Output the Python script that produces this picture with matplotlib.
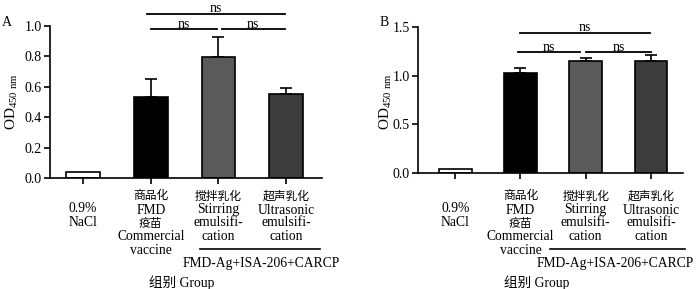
import numpy as np
import matplotlib
matplotlib.use('Agg')
import matplotlib.pyplot as plt
from matplotlib.transforms import blended_transform_factory

plt.rcParams['font.family'] = ['Liberation Serif', 'Noto Sans CJK SC']
plt.rcParams['mathtext.fontset'] = 'custom'
plt.rcParams['mathtext.rm'] = 'Liberation Serif'

# Data
groups = ['NaCl', 'Commercial', 'Stirring', 'Ultrasonic']
mean_a = [0.04, 0.53, 0.795, 0.555]
err_a = [0.0, 0.12, 0.135, 0.035]
mean_b = [0.045, 1.03, 1.155, 1.15]
err_b = [0.0, 0.05, 0.025, 0.06]
bar_colors = ['white', 'black', '#5a5a5a', '#3c3c3c']
yticks_a = [0.0, 0.2, 0.4, 0.6, 0.8, 1.0]
yticks_b = [0.0, 0.5, 1.0, 1.5]

# label lines per group (text, is_cjk)
label_lines = [
    [('0.9%', False), ('NaCl', False)],
    [('商品化', True), ('FMD', False), ('疫苗', True), ('Commercial', False), ('vaccine', False)],
    [('搅拌乳化', True), ('Stirring', False), ('emulsifi-', False), ('cation', False)],
    [('超声乳化', True), ('Ultrasonic', False), ('emulsifi-', False), ('cation', False)],
]
# vertical pixel centre of each row (from top of the image)
rows_nacl = [208, 222]
rows_other = [196, 210, 223, 237, 250]
group_text = '组别 Group'
combo_text = 'FMD-Ag+ISA-206+CARCP'

W, H = 700, 289
fig = plt.figure(figsize=(7, 2.89), dpi=100)


def fy(p):
    return 1 - p / H


def panel(rect, means, errs, yticks, ylim, xlim, letter, letter_xy, ylab_x,
          sig, line_x, combo_x, group_x):
    ax = fig.add_axes(rect)
    x = np.arange(len(means))
    ax.bar(x, means, width=0.5, color=bar_colors, edgecolor='black', linewidth=1.2, zorder=2)
    for xi, m, e in zip(x, means, errs):
        if e > 0:
            ax.errorbar(xi, m, yerr=[[0], [e]], fmt='none', ecolor='black',
                        elinewidth=1.2, capsize=4, capthick=1.2, zorder=1)
    ax.set_xlim(*xlim)
    ax.set_ylim(*ylim)
    ax.set_yticks(yticks)
    ax.set_yticklabels(['%.1f' % v for v in yticks], fontsize=10)
    ax.set_xticks(x)
    ax.set_xticklabels([])
    ax.tick_params(axis='both', direction='out', length=4, width=1.2, pad=2)
    for s in ['top', 'right']:
        ax.spines[s].set_visible(False)
    for s in ['left', 'bottom']:
        ax.spines[s].set_linewidth(1.2)

    tr = blended_transform_factory(ax.transData, fig.transFigure)
    for i, lines in enumerate(label_lines):
        rows = rows_nacl if i == 0 else rows_other
        for (txt, cjk), r in zip(lines, rows):
            ax.text(i, fy(r), txt, transform=tr, ha='center', va='center',
                    fontsize=8.5 if cjk else 9.8, clip_on=False,
                    family=['Noto Sans CJK SC'] if cjk else ['Liberation Serif'])
    ax.plot(line_x, [fy(249), fy(249)], transform=tr, color='black', lw=1.2, clip_on=False)
    ax.text(combo_x, fy(263), combo_text, transform=tr, ha='center', va='center',
            fontsize=9.8, clip_on=False)
    ax.text(group_x, fy(283), group_text, transform=tr, ha='center', va='center',
            fontsize=9.8, clip_on=False, family=['Liberation Serif', 'Noto Sans CJK SC'])

    px = (ylim[1] - ylim[0]) / (rect[3] * H)
    for x0, x1, yv in sig:
        ax.plot([x0, x1], [yv, yv], color='black', lw=1.3, clip_on=False)
        ax.text((x0 + x1) / 2, yv + 1.5 * px, 'ns', ha='center',
                va='baseline', fontsize=10, clip_on=False)

    fig.text(letter_xy[0] / W, fy(letter_xy[1]), letter, ha='center', va='center', fontsize=10)
    fig.text(ylab_x / W, fy(101), r'OD$_{\mathregular{450\ nm}}$', rotation=90,
             ha='center', va='center', fontsize=11)
    return ax


panel([50 / W, fy(178), 272 / W, 152 / H], mean_a, err_a, yticks_a, (0, 1.0), (-0.49, 3.53),
      'A', (7, 23), 12,
      [(0.94, 2.98, 1.08), (1.0, 1.98, 0.98), (2.05, 2.98, 0.98)],
      [1.73, 3.5], 2.63, 1.46)

panel([418 / W, fy(173), 265 / W, 146 / H], mean_b, err_b, yticks_b, (0, 1.5), (-0.57, 3.49),
      'B', (384, 23), 386,
      [(1.0, 2.98, 1.44), (0.96, 1.91, 1.24), (2.0, 3.0, 1.24)],
      [1.45, 3.52], 2.45, 1.25)

fig.savefig('out.png', dpi=100)
